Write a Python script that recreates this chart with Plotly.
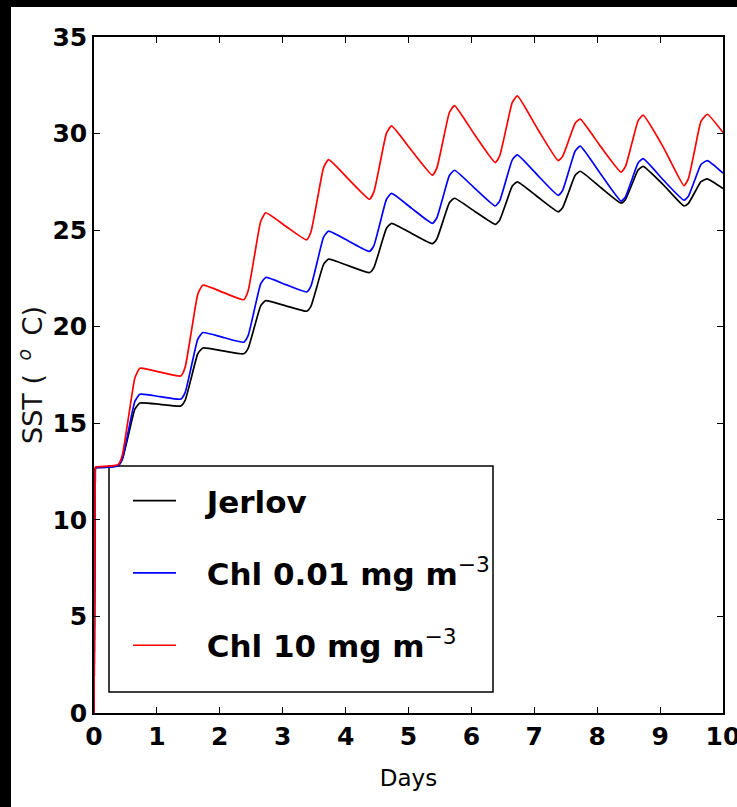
import plotly.graph_objects as go

# ---- data ----
days = [0.0, 0.02,
        0.38, 0.45, 0.55, 0.65, 0.73, 1.05,
        1.38, 1.45, 1.55, 1.65, 1.73, 2.05,
        2.38, 2.45, 2.55, 2.65, 2.73, 3.05,
        3.38, 3.45, 3.55, 3.65, 3.73, 4.05,
        4.38, 4.45, 4.55, 4.65, 4.73, 5.05,
        5.38, 5.45, 5.55, 5.65, 5.73, 6.05,
        6.38, 6.45, 6.55, 6.65, 6.73, 7.05,
        7.38, 7.45, 7.55, 7.65, 7.73, 8.05,
        8.38, 8.45, 8.55, 8.65, 8.73, 9.05,
        9.38, 9.45, 9.55, 9.65, 9.75, 10.0]

sst_jerlov = [0.0, 12.7,
              12.8, 13.13, 14.43, 15.73, 16.05, 15.98,
              15.9, 16.2, 17.4, 18.6, 18.9, 18.75,
              18.6, 18.88, 19.98, 21.08, 21.35, 21.08,
              20.8, 21.07, 22.15, 23.23, 23.5, 23.15,
              22.8, 23.06, 24.08, 25.1, 25.35, 24.83,
              24.3, 24.54, 25.48, 26.42, 26.65, 25.98,
              25.3, 25.52, 26.4, 27.28, 27.5, 26.73,
              25.95, 26.16, 27.0, 27.84, 28.05, 27.22,
              26.4, 26.59, 27.35, 28.11, 28.3, 27.35,
              26.25, 26.39, 26.95, 27.51, 27.65, 27.15]

sst_chl001 = [0.0, 12.7,
              12.8, 13.17, 14.65, 16.13, 16.5, 16.38,
              16.25, 16.6, 17.98, 19.36, 19.7, 19.45,
              19.2, 19.54, 20.88, 22.22, 22.55, 22.18,
              21.8, 22.12, 23.38, 24.64, 24.95, 24.43,
              23.9, 24.2, 25.4, 26.6, 26.9, 26.13,
              25.35, 25.63, 26.73, 27.83, 28.1, 27.18,
              26.25, 26.52, 27.58, 28.64, 28.9, 27.85,
              26.8, 27.06, 28.08, 29.1, 29.35, 27.93,
              26.5, 26.72, 27.6, 28.48, 28.7, 27.6,
              26.55, 26.76, 27.58, 28.4, 28.6, 27.95]

sst_chl10 = [0.0, 12.75,
             12.85, 13.35, 15.35, 17.35, 17.85, 17.65,
             17.45, 17.92, 19.8, 21.68, 22.15, 21.78,
             21.4, 21.85, 23.65, 25.45, 25.9, 25.2,
             24.5, 24.92, 26.58, 28.24, 28.65, 27.63,
             26.6, 26.98, 28.5, 30.02, 30.4, 29.12,
             27.85, 28.21, 29.65, 31.09, 31.45, 29.95,
             28.5, 28.85, 30.23, 31.61, 31.95, 30.25,
             28.6, 28.82, 29.68, 30.54, 30.75, 29.35,
             28.0, 28.3, 29.48, 30.66, 30.95, 29.3,
             27.3, 27.67, 29.15, 30.63, 31.0, 30.05]

SUP = '<sup><span style="font-weight:normal">\u22123</span></sup>'
PAD = "\u2002\u2004"
series_names = [PAD + "Jerlov",
                PAD + "Chl 0.01 mg m" + SUP,
                PAD + "Chl 10 mg m" + SUP]
series_colors = ["black", "blue", "red"]

x_ticks = list(range(0, 11))
y_ticks = list(range(0, 36, 5))

FAM = "DejaVu Sans"

fig = go.Figure()
for i, (name, col, ys) in enumerate(zip(series_names, series_colors,
                                         [sst_jerlov, sst_chl001, sst_chl10])):
    # initial jump at day 0 (straight segment)
    fig.add_trace(go.Scatter(
        x=days[:2], y=ys[:2], mode="lines", name=name,
        line=dict(color=col, width=1.7),
        legendgroup=f"g{i}", showlegend=False, hoverinfo="skip",
    ))
    # smooth diurnal cycles
    fig.add_trace(go.Scatter(
        x=days[1:], y=ys[1:], mode="lines", name=name,
        line=dict(color=col, width=1.7, shape="spline", smoothing=0.45),
        legendgroup=f"g{i}",
    ))

W, H = 737, 807
L, R, T, B = 94, 14, 37, 94
pw, ph = W - L - R, H - T - B

def px_x(p):
    return (p - L) / pw

def px_y(p):
    return (H - B - p) / ph

shapes = [
    dict(type="rect", xref="paper", yref="paper",
         x0=px_x(109), x1=px_x(493), y0=px_y(692), y1=px_y(466),
         line=dict(color="black", width=1.5), fillcolor="white", layer="below"),
    dict(type="rect", xref="paper", yref="paper",
         x0=px_x(0), x1=px_x(W), y0=px_y(7), y1=px_y(-2),
         line=dict(width=0), fillcolor="black", layer="below"),
    dict(type="rect", xref="paper", yref="paper",
         x0=px_x(-2), x1=px_x(11), y0=px_y(H + 2), y1=px_y(-2),
         line=dict(width=0), fillcolor="black", layer="below"),
]

def bold_font(s):
    return dict(family=FAM, size=s, color="black", weight="bold")

fig.update_layout(
    width=W, height=H,
    margin=dict(l=L, r=R, t=T, b=B, autoexpand=False),
    paper_bgcolor="white", plot_bgcolor="white",
    showlegend=True,
    legend=dict(
        x=px_x(128), y=px_y(474), xanchor="left", yanchor="top",
        bgcolor="rgba(0,0,0,0)", borderwidth=0,
        font=bold_font(31),
        tracegroupgap=29, itemwidth=43,
    ),
    shapes=shapes,
    xaxis=dict(
        range=[0, 10], tickvals=x_ticks, ticktext=[str(v) for v in x_ticks],
        showgrid=False, zeroline=False, automargin=False,
        showline=True, linecolor="black", linewidth=1.5, mirror="allticks",
        ticks="inside", ticklen=6, tickcolor="black", tickwidth=1,
        tickfont=bold_font(25), ticklabeloverflow="allow",
        title=dict(text="Days",
                   font=dict(family=FAM, size=23, color="black"),
                   standoff=20),
    ),
    yaxis=dict(
        range=[0, 35], tickvals=y_ticks, ticktext=[str(v) for v in y_ticks],
        showgrid=False, zeroline=False, automargin=False,
        showline=True, linecolor="black", linewidth=1.5, mirror="allticks",
        ticks="inside", ticklen=6, tickcolor="black", tickwidth=1,
        tickfont=bold_font(25), ticklabeloverflow="allow",
        title=dict(text="SST (\u2002<sup><i>o</i></sup>\u2002C)",
                   font=dict(family=FAM, size=27, color="#111111"),
                   standoff=2),
    ),
)

fig.write_html("out.html")
